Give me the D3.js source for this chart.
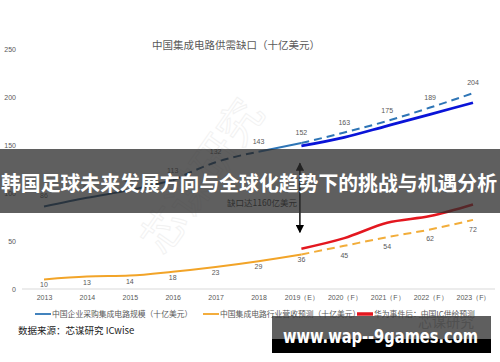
<!DOCTYPE html>
<html>
<head>
<meta charset="utf-8">
<script src="https://cdn.jsdelivr.net/npm/d3@7"></script>
<style>
  body { margin: 0; background: #fff; }
  svg { display: block; font-family: "Noto Sans CJK SC", "Noto Sans", sans-serif; }
</style>
</head>
<body>
<svg id="chart" width="500" height="362"></svg>
<script>
// categories
var years = ["2013", "2014", "2015", "2016", "2017", "2018", "2019（E）", "2020（F）", "2021（F）", "2022（F）", "2023（F）"];
// china enterprise IC purchase (history), 2013..2019
var demandHist = [86, 95, 103, 113, 132, 143, 152];
// demand forecast, 2019..2023
var demandFcst = [152, 163, 175, 189, 204];
// second blue forecast line (no labels), 2019..2023
var demandAlt = [149, 158, 170, 182, 194];
// china IC industry revenue, 2013..2019
var supplyHist = [10, 13, 14, 18, 23, 29, 36];
// revenue forecast, 2019..2023
var supplyFcst = [36, 45, 54, 62, 72];
// after huawei event, 2019..2023
var huawei = [42, 53, 69, 76, 88];
var yTicks = [0, 50, 100, 150, 200, 250];

var svg = d3.select("#chart");
var x = d3.scalePoint().domain(years).range([44, 473]);
var y = d3.scaleLinear().domain([0, 250]).range([289, 49]);

// faint background watermark
svg.append("text")
    .attr("transform", "translate(215,185) rotate(-55)")
    .attr("text-anchor", "middle")
    .attr("font-size", 44)
    .attr("fill", "none")
    .attr("stroke", "#f2f2f2")
    .attr("stroke-width", 1)
    .text("芯谋研究");

// title
svg.append("text")
    .attr("x", 236).attr("y", 49)
    .attr("text-anchor", "middle")
    .attr("font-size", 10.5)
    .attr("fill", "#595959")
    .text("中国集成电路供需缺口（十亿美元）");

// y axis labels
var yAxis = svg.append("g")
    .attr("transform", "translate(16,0)")
    .call(d3.axisLeft(y).tickValues(yTicks).tickSize(0).tickPadding(0));
yAxis.select(".domain").remove();
yAxis.selectAll("text").attr("font-size", 7).attr("fill", "#595959").attr("font-family", "Liberation Sans, sans-serif");

// x axis
var xAxis = svg.append("g")
    .attr("transform", "translate(0," + y(0) + ")")
    .call(d3.axisBottom(x).tickSize(0).tickPadding(6));
xAxis.select(".domain").remove();
xAxis.selectAll("text").attr("font-size", 7).attr("fill", "#595959");
svg.append("line")
    .attr("x1", 22).attr("x2", 495)
    .attr("y1", y(0)).attr("y2", y(0))
    .attr("stroke", "#d9d9d9").attr("stroke-width", 1);

function pts(vals, start) {
    return vals.map((v, i) => ({ cat: years[start + i], v: v }));
}
var line = d3.line().x(d => x(d.cat)).y(d => y(d.v)).curve(d3.curveMonotoneX);

function drawLine(data, color, width, dash) {
    svg.append("path")
        .datum(data)
        .attr("d", line)
        .attr("fill", "none")
        .attr("stroke", color)
        .attr("stroke-width", width)
        .attr("stroke-dasharray", dash || null)
        .attr("stroke-linecap", "butt");
}

var dHist = pts(demandHist, 0);
drawLine(dHist.slice(0, 4), "#1f4e79", 2);
drawLine(dHist.slice(3, 6), "#1f4e79", 2, "8,5");
drawLine(dHist.slice(5, 7), "#2e75b6", 2);
drawLine(pts(demandFcst, 6), "#2e75b6", 2, "8,5");
drawLine(pts(demandAlt, 6), "#0a14d8", 2.8);

drawLine(pts(supplyHist, 0), "#f2a428", 2);
drawLine(pts(supplyFcst, 6), "#f2ad3a", 2, "8,5");
drawLine(pts(huawei, 6), "#e3171f", 2.5);

// data labels
function labels(data, dy) {
    svg.append("g").selectAll("text")
        .data(data)
        .enter().append("text")
        .attr("x", d => x(d.cat))
        .attr("y", d => y(d.v) + dy)
        .attr("text-anchor", "middle")
        .attr("font-size", 7)
        .attr("fill", "#595959")
        .attr("font-family", "Liberation Sans, sans-serif")
        .text(d => d.v);
}
labels(dHist, -8);
labels(pts(demandFcst, 6).slice(1), -8);
labels(pts(supplyHist, 0), 8);
labels(pts(supplyFcst, 6).slice(1), 12);

// gap arrow
var defs = svg.append("defs");
defs.append("marker")
    .attr("id", "ah")
    .attr("viewBox", "0 0 10 10")
    .attr("refX", 9).attr("refY", 5)
    .attr("markerWidth", 6).attr("markerHeight", 6)
    .attr("orient", "auto-start-reverse")
    .append("path").attr("d", "M0,0 L10,5 L0,10 z").attr("fill", "#000");
svg.append("line")
    .attr("x1", x(years[6]) - 1.5).attr("x2", x(years[6]) - 1.5)
    .attr("y1", y(131)).attr("y2", y(59))
    .attr("stroke", "#000").attr("stroke-width", 1.4)
    .attr("marker-start", "url(#ah)")
    .attr("marker-end", "url(#ah)");
svg.append("text")
    .attr("x", 262).attr("y", 206)
    .attr("text-anchor", "middle")
    .attr("font-size", 8.5)
    .attr("fill", "#333")
    .text("缺口达1160亿美元");

// legend
var legend = [
    { x: 35, color: "#2e75b6", w: 1.8, text: "中国企业采购集成电路规模（十亿美元）" },
    { x: 203, color: "#f2a428", w: 1.8, text: "中国集成电路行业营收预测（十亿美元）" },
    { x: 357, color: "#e3171f", w: 3.5, text: "华为事件后：中国IC供给预测" }
];
var lg = svg.append("g").selectAll("g").data(legend).enter().append("g");
lg.append("line")
    .attr("x1", d => d.x).attr("x2", d => d.x + 16)
    .attr("y1", 314).attr("y2", 314)
    .attr("stroke", d => d.color).attr("stroke-width", d => d.w);
lg.append("text")
    .attr("x", d => d.x + 17).attr("y", 317)
    .attr("font-size", 7.8)
    .attr("fill", "#595959")
    .text(d => d.text);

// source
svg.append("text")
    .attr("x", 18).attr("y", 334)
    .attr("font-size", 9.5)
    .attr("fill", "#222")
    .text("数据来源：芯谋研究 ICwise");

// overlay banner
svg.append("rect")
    .attr("x", 0).attr("y", 149).attr("width", 500).attr("height", 64)
    .attr("fill", "rgba(45,45,45,0.76)");
svg.append("text")
    .attr("x", 1).attr("y", 191)
    .attr("font-size", 20.5)
    .attr("font-weight", "bold")
    .attr("fill", "#fff")
    .attr("textLength", 496)
    .attr("lengthAdjust", "spacingAndGlyphs")
    .text("韩国足球未来发展方向与全球化趋势下的挑战与机遇分析");

// bottom watermark
svg.append("text")
    .attr("x", 418).attr("y", 327)
    .attr("font-size", 14)
    .attr("fill", "#aaa")
    .text("芯谋研究");
svg.append("rect")
    .attr("x", 272).attr("y", 316).attr("width", 219).attr("height", 24)
    .attr("fill", "rgba(60,60,60,0.82)");
svg.append("rect")
    .attr("x", 272).attr("y", 339).attr("width", 219).attr("height", 14)
    .attr("fill", "#000");
svg.append("text")
    .attr("x", 283).attr("y", 343)
    .attr("font-size", 20)
    .attr("font-weight", "bold")
    .attr("font-family", "DejaVu Sans, sans-serif")
    .attr("fill", "#fff")
    .attr("textLength", 195)
    .attr("lengthAdjust", "spacingAndGlyphs")
    .text("www.wap--9games.com");
</script>
</body>
</html>
